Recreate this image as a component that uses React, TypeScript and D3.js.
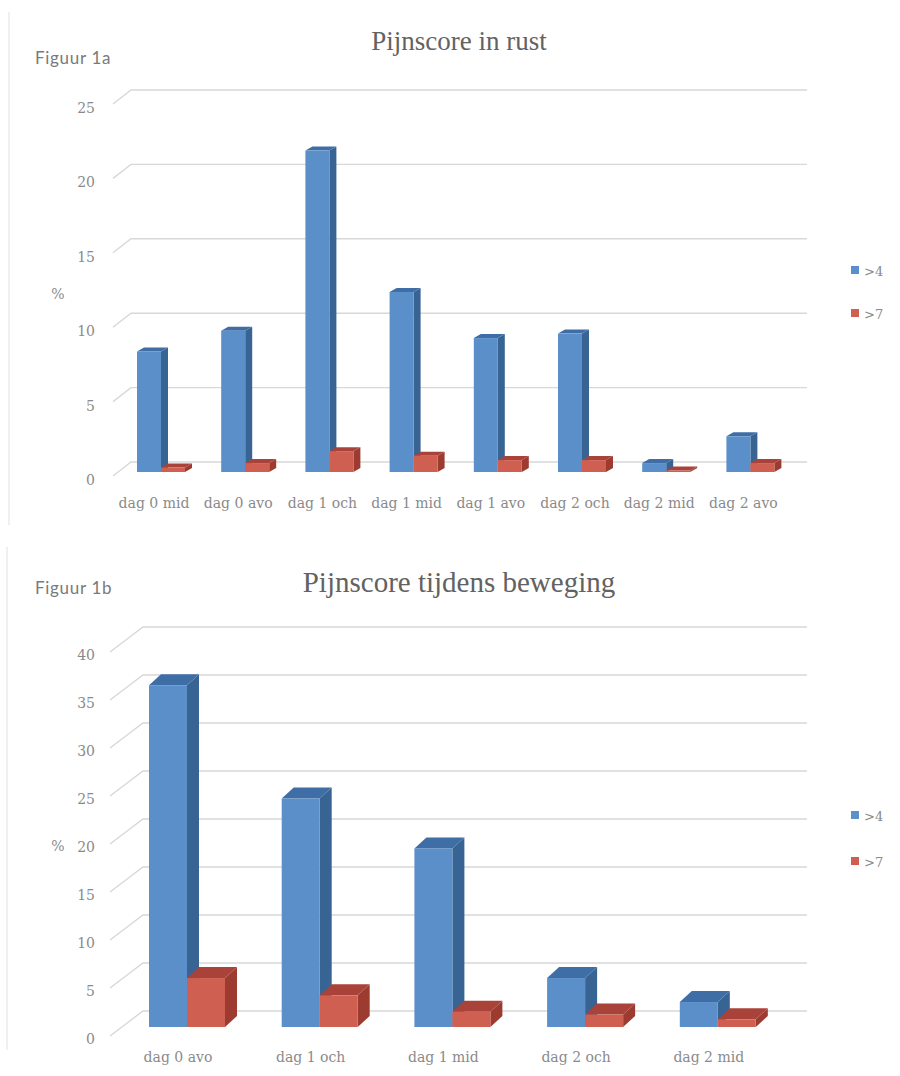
import React from "react";
import * as d3 from "d3";

// Pain-score percentages per measuring moment
const restCategories = ["dag 0 mid", "dag 0 avo", "dag 1 och", "dag 1 mid", "dag 1 avo", "dag 2 och", "dag 2 mid", "dag 2 avo"];
const restAbove4 = [8.1, 9.5, 21.6, 12.1, 9.0, 9.3, 0.6, 2.4];
const restAbove7 = [0.3, 0.6, 1.4, 1.1, 0.8, 0.8, 0.1, 0.6];
const restTicks = [0, 5, 10, 15, 20, 25];

const moveCategories = ["dag 0 avo", "dag 1 och", "dag 1 mid", "dag 2 och", "dag 2 mid"];
const moveAbove4 = [35.6, 23.8, 18.6, 5.1, 2.6];
const moveAbove7 = [5.1, 3.3, 1.6, 1.3, 0.8];
const moveTicks = [0, 5, 10, 15, 20, 25, 30, 35, 40];

const seriesNames = [">4", ">7"];
const frontColors = ["#5a8fca", "#cf5f50"];
const sideColors = ["#386493", "#9e3b30"];
const topColors = ["#3f6ea6", "#a9433a"];

const TITLE_FONT = "'Liberation Serif', serif";
const AXIS_FONT = "'DejaVu Serif', serif";
const TAG_FONT = "'Lato', 'Noto Sans', sans-serif";
const TEXT = "#8a8a8a";

type PanelProps = {
  tag: string;
  tagY: number;
  title: string;
  titleY: number;
  titleSize: number;
  categories: string[];
  above4: number[];
  above7: number[];
  ticks: number[];
  xStart: number;
  step: number;
  barWidth: number;
  yBase: number;
  yTop: number;
  gridLeft: number;
  gridDx: number;
  gridBack: number;
  gridDrop: number;
  barDx: number;
  barDy: number;
  tickShift: number;
  labelShift: number;
  labelY: number;
  percentY: number;
  legendY: number[];
  frameTop: number;
  frameBottom: number;
  frameX: number;
};

function Panel(p: PanelProps) {
  const padding = 1 - (2 * p.barWidth) / p.step;
  const x = d3
    .scaleBand<string>()
    .domain(p.categories)
    .range([p.xStart, p.xStart + p.step * p.categories.length])
    .paddingInner(padding)
    .paddingOuter(padding / 2);
  const inner = d3.scaleBand<number>().domain([0, 1]).range([0, x.bandwidth()]);
  const y = d3
    .scaleLinear()
    .domain(d3.extent(p.ticks) as [number, number])
    .range([p.yBase, p.yTop]);
  const poly = d3.line();
  const series = [p.above4, p.above7];

  return (
    <g>
      <line x1={p.frameX} x2={p.frameX} y1={p.frameTop} y2={p.frameBottom} stroke="#f0f0f0" strokeWidth={2} />
      <text x={35} y={p.tagY} fontFamily={TAG_FONT} fontSize={17} letterSpacing={0.7} fill="#7a7a7a">{p.tag}</text>
      <text x={459} y={p.titleY} textAnchor="middle" fontFamily={TITLE_FONT} fontSize={p.titleSize} fill="#626262">{p.title}</text>

      {p.ticks.map((t) => {
        const backY = y(t) - p.gridBack;
        const frontY = backY + p.gridDrop;
        return (
          <g key={t}>
            <path
              d={poly([[p.gridLeft, frontY], [p.gridLeft + p.gridDx, backY], [807, backY]]) ?? ""}
              fill="none"
              stroke="#d8d8d8"
              strokeWidth={1.4}
            />
            <text x={95} y={frontY + p.tickShift} textAnchor="end" fontFamily={AXIS_FONT} fontSize={14} fill={TEXT}>{t}</text>
          </g>
        );
      })}

      <text x={58} y={p.percentY} textAnchor="middle" fontFamily={AXIS_FONT} fontSize={14} fill={TEXT}>%</text>

      {p.categories.map((c, i) => {
        const left = x(c) as number;
        return (
          <g key={c}>
            {[0, 1].map((s) => {
              const v = series[s][i];
              const x0 = left + (inner(s) as number);
              const x1 = x0 + inner.bandwidth();
              const yT = y(v);
              const yB = y(0);
              const { barDx: dx, barDy: dy } = p;
              return (
                <g key={s}>
                  <path d={(poly([[x1, yT], [x1 + dx, yT - dy], [x1 + dx, yB - dy], [x1, yB]]) ?? "") + "Z"} fill={sideColors[s]} />
                  <path d={(poly([[x0, yT], [x0 + dx, yT - dy], [x1 + dx, yT - dy], [x1, yT]]) ?? "") + "Z"} fill={topColors[s]} />
                  <rect x={x0} y={yT} width={x1 - x0} height={yB - yT} fill={frontColors[s]} />
                </g>
              );
            })}
            <text x={left + x.bandwidth() / 2 + p.labelShift} y={p.labelY} textAnchor="middle" fontFamily={AXIS_FONT} fontSize={14} fill={TEXT}>{c}</text>
          </g>
        );
      })}

      {seriesNames.map((name, s) => (
        <g key={name}>
          <rect x={851} y={p.legendY[s] - 4} width={8} height={8} fill={frontColors[s]} />
          <text x={864} y={p.legendY[s] + 6} fontFamily={AXIS_FONT} fontSize={13} fill={TEXT}>{name}</text>
        </g>
      ))}
    </g>
  );
}

export default function App() {
  return (
    <svg width={900} height={1076} viewBox="0 0 900 1076" style={{ position: "absolute", left: 0, top: 0 }}>
      <rect width={900} height={1076} fill="#ffffff" />
      <Panel
        tag="Figuur 1a" tagY={64}
        title="Pijnscore in rust" titleY={50} titleSize={27}
        categories={restCategories} above4={restAbove4} above7={restAbove7} ticks={restTicks}
        xStart={137 - (84.2 - 48) / 2} step={84.2} barWidth={24}
        yBase={472} yTop={100}
        gridLeft={113} gridDx={18} gridBack={10} gridDrop={14}
        barDx={7} barDy={4} tickShift={9}
        labelShift={-7} labelY={508} percentY={299}
        legendY={[270, 313]}
        frameTop={12} frameBottom={525} frameX={9}
      />
      <Panel
        tag="Figuur 1b" tagY={594}
        title="Pijnscore tijdens beweging" titleY={592} titleSize={29}
        categories={moveCategories} above4={moveAbove4} above7={moveAbove7} ticks={moveTicks}
        xStart={149 - (132.7 - 76) / 2} step={132.7} barWidth={38}
        yBase={1027} yTop={643}
        gridLeft={110} gridDx={33} gridBack={16} gridDrop={25}
        barDx={12} barDy={11} tickShift={8}
        labelShift={-9} labelY={1062} percentY={851}
        legendY={[815, 861]}
        frameTop={547} frameBottom={1050} frameX={7}
      />
    </svg>
  );
}
